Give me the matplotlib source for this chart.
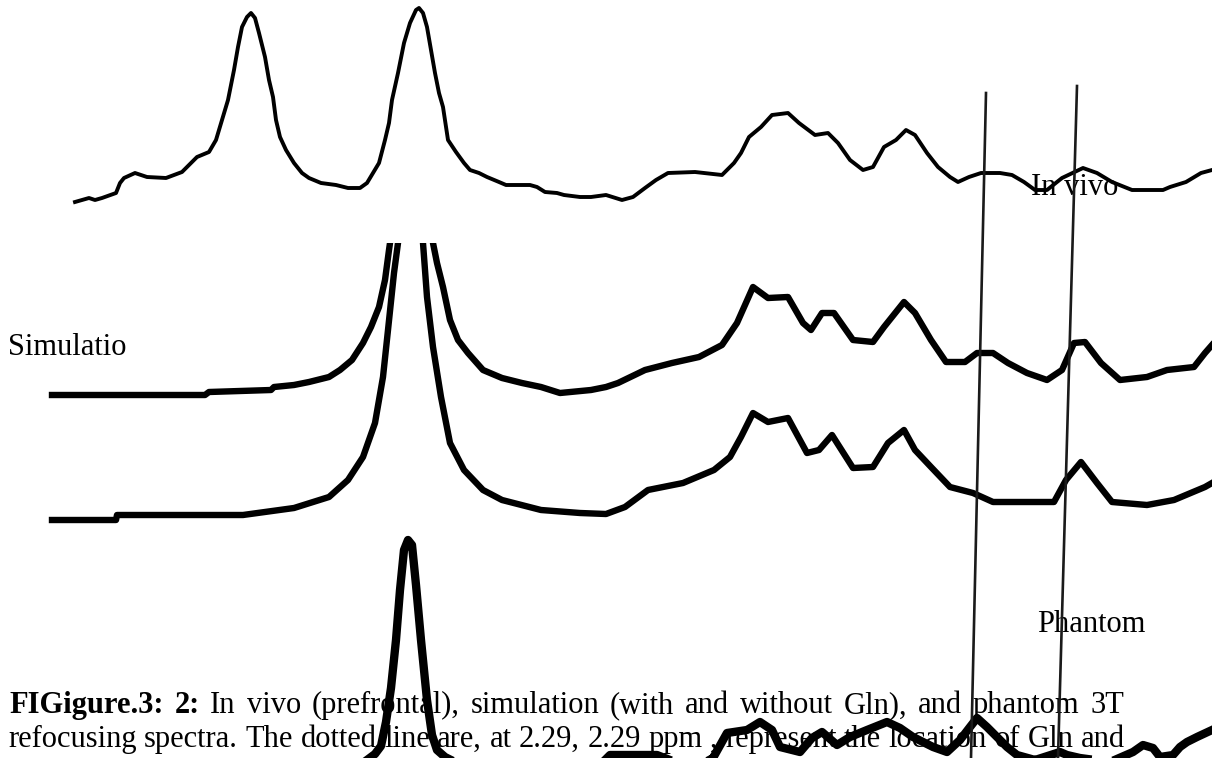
import matplotlib
matplotlib.use("Agg")
import matplotlib.pyplot as plt
from matplotlib.patches import Rectangle

# traces (x along spectrum, y downwards, in image units)
invivo_x = [75, 89, 95, 102, 116, 120, 124, 135, 147, 166, 182, 189, 197, 209, 216, 222,
            228, 234, 238, 242, 247, 251, 255, 259, 265, 269, 273, 276, 280, 286, 294, 302,
            309, 321, 336, 348, 360, 367, 373, 379, 385, 389, 392, 398, 404, 410, 416, 419,
            423, 427, 431, 435, 439, 443, 448, 456, 464, 470, 479, 487, 499, 506, 530, 537,
            545, 557, 564, 580, 591, 606, 622, 633, 645, 656, 668, 695, 722, 734, 741, 749,
            761, 772, 788, 799, 815, 828, 838, 850, 863, 873, 884, 896, 906, 915, 927, 938,
            950, 958, 969, 981, 1000, 1012, 1024, 1035, 1047, 1062, 1083, 1097, 1112, 1132,
            1163, 1170, 1186, 1201, 1212]
invivo_y = [202, 198, 200, 198, 193, 183, 178, 173, 177, 178, 172, 165, 157, 152, 140, 120,
            100, 70, 47, 27, 17, 13, 18, 33, 57, 80, 97, 120, 137, 150, 163, 173,
            178, 183, 185, 188, 188, 183, 173, 163, 140, 123, 100, 73, 43, 23, 10, 8,
            13, 27, 50, 73, 93, 107, 140, 152, 163, 170, 173, 177, 182, 185, 185, 187,
            192, 193, 195, 197, 197, 195, 200, 197, 188, 180, 173, 172, 175, 163, 153, 137,
            127, 115, 113, 123, 135, 133, 143, 160, 170, 167, 147, 140, 130, 135, 153, 167,
            177, 182, 177, 173, 173, 175, 182, 190, 190, 178, 168, 173, 182, 190,
            190, 187, 182, 173, 170]

sim_gln_x = [52, 205, 209, 271, 274, 294, 309, 329, 340, 352, 363, 371, 379, 385, 389, 390,
             396, 411, 427, 433, 437, 443, 450, 458, 468, 483, 502, 522, 541, 560, 591,
             606, 618, 645, 672, 699, 722, 737, 753, 768, 788, 803, 811, 822, 834, 853,
             873, 884, 904, 915, 931, 946, 965, 977, 993, 1008, 1027, 1047, 1062, 1074,
             1085, 1101, 1120, 1147, 1167, 1194, 1205, 1212]
sim_gln_y = [395, 395, 392, 390, 387, 385, 382, 377, 370, 360, 343, 327, 307, 280, 250, 243,
             150, 100, 150, 243, 263, 287, 320, 340, 353, 370, 378, 383, 387, 393, 390,
             387, 383, 370, 363, 357, 345, 323, 287, 298, 297, 323, 330, 313, 313, 340,
             342, 327, 302, 313, 340, 362, 362, 353, 353, 363, 373, 380, 370, 343,
             342, 363, 380, 377, 370, 367, 353, 345]

sim_nogln_x = [52, 116, 117, 243, 294, 329, 348, 363, 375, 383, 388, 394, 398, 403, 411, 418,
               423, 427, 433, 441, 450, 464, 483, 502, 541, 580, 606, 625, 648, 683, 714,
               730, 741, 753, 768, 788, 807, 819, 832, 853, 873, 888, 904, 915, 931, 950,
               973, 993, 1031, 1054, 1066, 1081, 1097, 1112, 1147, 1174, 1205, 1212]
sim_nogln_y = [520, 520, 515, 515, 508, 497, 480, 457, 423, 377, 330, 273, 243, 150, 110, 150,
               243, 297, 347, 397, 443, 470, 490, 500, 510, 513, 514, 507, 490, 483, 470,
               457, 437, 413, 422, 418, 453, 450, 435, 468, 467, 443, 430, 450, 467, 487,
               493, 502, 502, 502, 480, 462, 483, 502, 505, 500, 487, 483]

phantom_x = [330, 367, 375, 381, 386, 391, 396, 400, 404, 408, 412, 416, 421, 427, 432, 437,
             445, 455, 600, 610, 657, 670, 700, 713, 727, 747, 760, 772, 780, 800, 812,
             822, 837, 850, 867, 887, 900, 913, 933, 947, 960, 970, 977, 987, 997, 1007,
             1017, 1035, 1060, 1067, 1080, 1110, 1133, 1143, 1153, 1160, 1173, 1180, 1187,
             1197, 1212]
phantom_y = [775, 760, 754, 746, 722, 688, 640, 590, 550, 540, 545, 585, 640, 700, 735, 750,
             757, 762, 765, 755, 755, 760, 765, 758, 733, 730, 722, 730, 747, 752, 738,
             732, 745, 737, 730, 722, 728, 737, 747, 752, 740, 727, 718, 727, 737, 747,
             755, 760, 752, 755, 758, 762, 752, 745, 748, 757, 755, 747, 742,
             737, 730]

# the two near-vertical location markers
marker_top_x = [986, 1077]
marker_top_y = [93, 86]
marker_bottom_x = [971, 1058]

labels = [("In vivo", 1031, 195), ("Simulatio", 8, 355), ("Phantom", 1037, 632)]

caption_1 = [("FIGigure.3:", True), ("2:", True), ("In", False), ("vivo", False),
             ("(prefrontal),", False), ("simulation", False), ("(with", False),
             ("and", False), ("without", False), ("Gln),", False), ("and", False),
             ("phantom", False), ("3T", False)]
caption_2 = ["refocusing", "spectra.", "The", "dotted", "line", "are,", "at", "2.29,",
             "2.29", "ppm", ",", "represent", "the", "location", "of", "Gln", "and"]

W, H = 1212, 758
FONT = "Liberation Serif"
SIZE = 22.0

fig = plt.figure(figsize=(W / 100, H / 100), dpi=100)
ax = fig.add_axes([0, 0, 1, 1])
ax.set_xlim(0, W)
ax.set_ylim(H, 0)
ax.axis("off")

renderer = fig.canvas.get_renderer()


def justify(words, y, x0, x1):
    items = []
    for w, bold in words:
        items.append(ax.text(0, y, w, fontsize=SIZE, family=FONT, va="baseline",
                             fontweight="bold" if bold else "normal", zorder=1))
    widths = [t.get_window_extent(renderer).width for t in items]
    gap = (x1 - x0 - sum(widths)) / (len(items) - 1)
    x = x0
    for t, wd in zip(items, widths):
        t.set_x(x)
        x += wd + gap


justify(caption_1, 713, 9, 1124)
justify([(w, False) for w in caption_2], 747, 8, 1125)

for txt, x, y in labels:
    ax.text(x, y, txt, fontsize=SIZE, family=FONT, va="baseline", zorder=1)

# in vivo spectrum
ax.plot(invivo_x, invivo_y, color="black", lw=2.8, zorder=3)

# simulated spectra are cut off at the top of their panel
clip = Rectangle((0, 243), W, H - 243, transform=ax.transData)
for xs, ys in [(sim_gln_x, sim_gln_y), (sim_nogln_x, sim_nogln_y)]:
    ln, = ax.plot(xs, ys, color="black", lw=4.6, zorder=3)
    ln.set_clip_path(clip)

ax.plot(phantom_x, phantom_y, color="black", lw=6, zorder=3)

for xt, yt, xb in zip(marker_top_x, marker_top_y, marker_bottom_x):
    ax.plot([xt, xb], [yt, H], color="#1a1a1a", lw=1.9, zorder=4)

fig.savefig("out.png", dpi=100, facecolor="white")
